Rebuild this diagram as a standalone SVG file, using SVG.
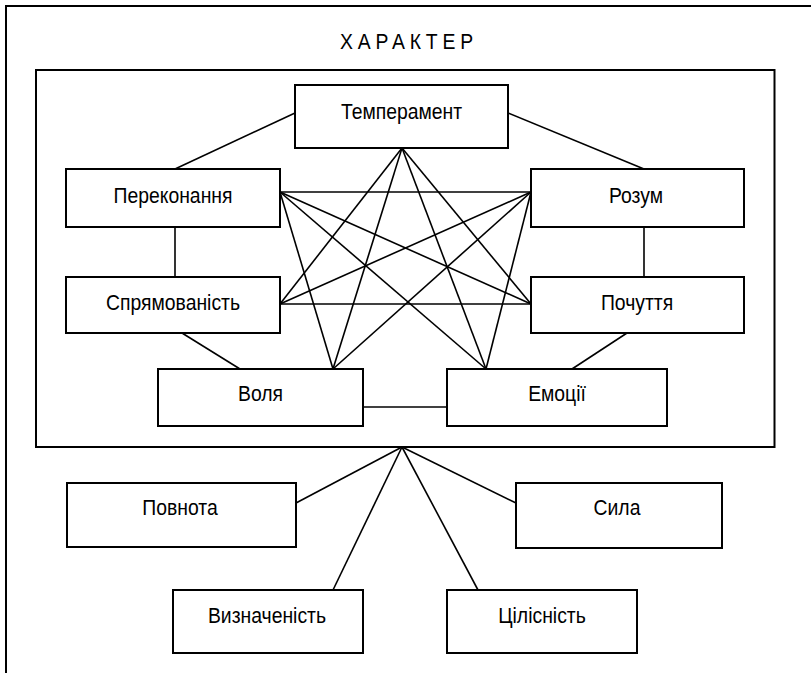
<svg xmlns="http://www.w3.org/2000/svg" width="811" height="673" viewBox="0 0 811 673">
<style>
.box{fill:#fff;stroke:#000;stroke-width:2}
.frame{fill:none;stroke:#000;stroke-width:2}
.conn line{stroke:#000;stroke-width:1.6}
.lbl{font-family:"Liberation Sans",Arial,sans-serif;font-size:22px;fill:#000;text-anchor:middle}
</style>
<rect width="811" height="673" fill="#fff"/>
<polyline class="frame" points="6,673 6,6 811,6"/>
<rect class="frame" x="36" y="70" width="738.5" height="377"/>
<text class="lbl" transform="translate(409,49) scale(0.88,1)" letter-spacing="5.5">ХАРАКТЕР</text>
<g class="conn" id="connectors">
<line x1="295" y1="113" x2="175" y2="169"/>
<line x1="508" y1="113" x2="644" y2="169"/>
<line x1="175" y1="227" x2="175" y2="277"/>
<line x1="644" y1="227" x2="644" y2="277"/>
<line x1="182" y1="333" x2="240" y2="369"/>
<line x1="627" y1="333" x2="572" y2="369"/>
<line x1="363" y1="407" x2="447" y2="407"/>
<line x1="402" y1="148" x2="280" y2="304"/>
<line x1="402" y1="148" x2="333" y2="369"/>
<line x1="402" y1="148" x2="486" y2="369"/>
<line x1="402" y1="148" x2="531" y2="304"/>
<line x1="280" y1="192" x2="531" y2="192"/>
<line x1="280" y1="192" x2="531" y2="304"/>
<line x1="280" y1="192" x2="333" y2="369"/>
<line x1="280" y1="192" x2="486" y2="369"/>
<line x1="531" y1="192" x2="280" y2="304"/>
<line x1="531" y1="192" x2="333" y2="369"/>
<line x1="531" y1="192" x2="486" y2="369"/>
<line x1="280" y1="304" x2="531" y2="304"/>
<line x1="402" y1="447" x2="296" y2="503"/>
<line x1="402" y1="447" x2="516" y2="503"/>
<line x1="402" y1="447" x2="333" y2="590"/>
<line x1="402" y1="447" x2="478" y2="590"/>
</g>
<g id="temperament"><rect class="box" x="295" y="85" width="213" height="63"/><text class="lbl" transform="translate(401.5,119) scale(0.88,1)">Темперамент</text></g>
<g id="perekonannia"><rect class="box" x="66" y="169" width="214" height="58"/><text class="lbl" transform="translate(173,203) scale(0.88,1)">Переконання</text></g>
<g id="rozum"><rect class="box" x="531" y="169" width="213" height="58"/><text class="lbl" transform="translate(636,203) scale(0.88,1)">Розум</text></g>
<g id="spriamovanist"><rect class="box" x="66" y="277" width="214" height="56"/><text class="lbl" transform="translate(173,310) scale(0.88,1)">Спрямованість</text></g>
<g id="pochuttia"><rect class="box" x="531" y="277" width="213" height="56"/><text class="lbl" transform="translate(637,310) scale(0.88,1)">Почуття</text></g>
<g id="volia"><rect class="box" x="158" y="369" width="205" height="57"/><text class="lbl" transform="translate(260.5,401) scale(0.88,1)">Воля</text></g>
<g id="emotsii"><rect class="box" x="447" y="369" width="220" height="57"/><text class="lbl" transform="translate(557,401) scale(0.88,1)">Емоції</text></g>
<g id="povnota"><rect class="box" x="67" y="483" width="229" height="64"/><text class="lbl" transform="translate(180,515) scale(0.88,1)">Повнота</text></g>
<g id="syla"><rect class="box" x="516" y="483" width="206" height="65"/><text class="lbl" transform="translate(617,515) scale(0.88,1)">Сила</text></g>
<g id="vyznachenist"><rect class="box" x="173" y="590" width="190" height="63"/><text class="lbl" transform="translate(267,623) scale(0.88,1)">Визначеність</text></g>
<g id="tsilisnist"><rect class="box" x="447" y="590" width="190" height="63"/><text class="lbl" transform="translate(542,623) scale(0.88,1)">Цілісність</text></g>
</svg>
